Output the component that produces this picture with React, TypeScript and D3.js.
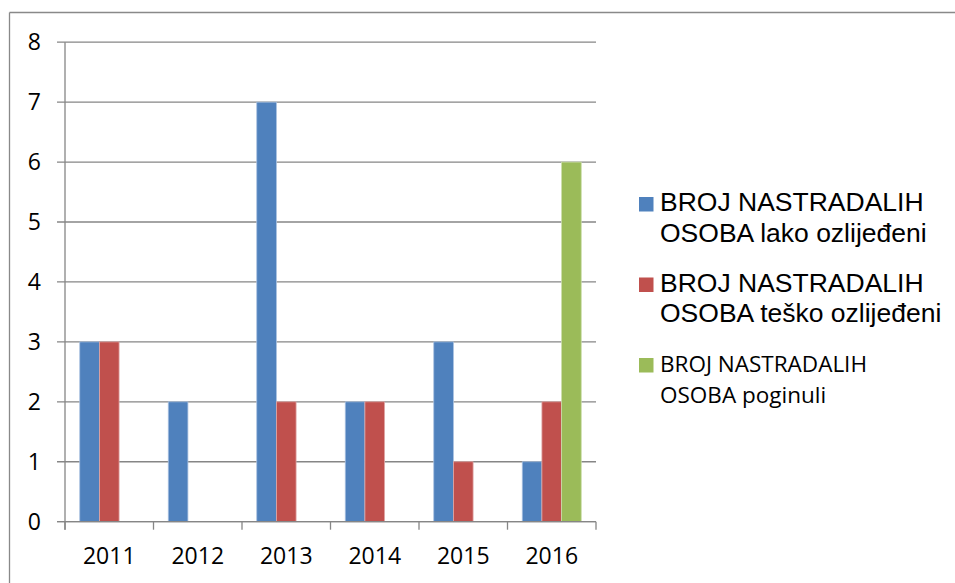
import React, { useEffect, useRef } from "react";
import * as d3 from "d3";

const years = ["2011", "2012", "2013", "2014", "2015", "2016"];
const seriesKeys = ["lako", "tesko", "poginuli"];
const lakoOzlijedeni = [3, 2, 7, 2, 3, 1];
const teskoOzlijedeni = [3, 0, 2, 2, 1, 2];
const poginuli = [0, 0, 0, 0, 0, 6];
const legendLines = [
  ["BROJ NASTRADALIH", "OSOBA lako ozlijeđeni"],
  ["BROJ NASTRADALIH", "OSOBA teško ozlijeđeni"],
  ["BROJ NASTRADALIH", "OSOBA poginuli"],
];
const yTicks = [0, 1, 2, 3, 4, 5, 6, 7, 8];

const colors = ["#4F81BD", "#C0504D", "#9BBB59"];
const edgeColors = ["#A9C1E0", "#DFA7A6", "#CBDDAB"];

const W = 955;
const H = 583;

const App = () => {
  const ref = useRef<SVGSVGElement>(null);

  useEffect(() => {
    const svg = d3.select(ref.current);
    svg.selectAll("*").remove();

    const values = [lakoOzlijedeni, teskoOzlijedeni, poginuli];

    // outer frame (only top and left edge visible)
    svg.append("line").attr("x1", 9.5).attr("x2", W).attr("y1", 12.5).attr("y2", 12.5)
      .attr("stroke", "#898989").attr("stroke-width", 1.3);
    svg.append("line").attr("x1", 9.5).attr("x2", 9.5).attr("y1", 12.5).attr("y2", H)
      .attr("stroke", "#898989").attr("stroke-width", 1.3);

    const x = d3.scaleBand().domain(years).range([65, 596]).padding(0);
    const xs = d3.scaleBand().domain(seriesKeys).range([0, x.bandwidth()])
      .paddingInner(0).paddingOuter(0.75);
    const y = d3.scaleLinear().domain([0, 8]).range([521.7, 42.2]);

    // gridlines with left ticks
    svg.append("g").selectAll("line").data(yTicks).join("line")
      .attr("x1", 57).attr("x2", 596)
      .attr("y1", (d) => y(d)).attr("y2", (d) => y(d))
      .attr("stroke", "#868686").attr("stroke-width", 1.3);

    // y axis line
    svg.append("line").attr("x1", 65).attr("x2", 65).attr("y1", y(8)).attr("y2", y(0) + 8)
      .attr("stroke", "#868686").attr("stroke-width", 1.3);

    // x ticks at category boundaries
    const bounds = years.map((d) => x(d) as number).concat([596]);
    svg.append("g").selectAll("line").data(bounds).join("line")
      .attr("x1", (d) => d).attr("x2", (d) => d)
      .attr("y1", y(0)).attr("y2", y(0) + 8)
      .attr("stroke", "#868686").attr("stroke-width", 1.3);

    // bars
    seriesKeys.forEach((key, si) => {
      svg.append("g").selectAll("rect")
        .data(years.map((yr, i) => ({ yr, v: values[si][i] })).filter((d) => d.v > 0))
        .join("rect")
        .attr("x", (d) => (x(d.yr) as number) + (xs(key) as number))
        .attr("width", xs.bandwidth())
        .attr("y", (d) => y(d.v))
        .attr("height", (d) => y(0) - y(d.v))
        .attr("fill", colors[si])
        .attr("stroke", edgeColors[si])
        .attr("stroke-width", 0.8);
    });

    // redraw baseline over the bars
    svg.append("line").attr("x1", 57).attr("x2", 596).attr("y1", y(0)).attr("y2", y(0))
      .attr("stroke", "#868686").attr("stroke-width", 1.3);

    // y labels
    svg.append("g").selectAll("text").data(yTicks).join("text")
      .attr("x", 41).attr("y", (d) => y(d) + 8)
      .attr("text-anchor", "end")
      .attr("font-family", "'Open Sans', sans-serif").attr("font-size", 23)
      .attr("fill", "#000")
      .text((d) => d);

    // x labels
    svg.append("g").selectAll("text").data(years).join("text")
      .attr("x", (d) => (x(d) as number) + x.bandwidth() / 2)
      .attr("y", 564)
      .attr("text-anchor", "middle")
      .attr("font-family", "'Open Sans', sans-serif").attr("font-size", 23)
      .attr("fill", "#000")
      .text((d) => d);

    // legend
    const legendTop = [197, 277.5, 358];
    legendLines.forEach((lines, i) => {
      const g = svg.append("g");
      g.append("rect").attr("x", 639).attr("y", legendTop[i]).attr("width", 14.5).attr("height", 14.5)
        .attr("fill", colors[i]);
      const isArial = i < 2;
      lines.forEach((t, li) => {
        g.append("text")
          .attr("x", 660)
          .attr("y", legendTop[i] + 14 + li * 30.7)
          .attr("font-family", isArial ? "'Liberation Sans', Arial, sans-serif" : "'Open Sans', sans-serif")
          .attr("font-size", isArial ? 26.5 : 22.5)
          .attr("fill", "#000")
          .text(t);
      });
    });
  }, []);

  return (
    <svg
      ref={ref}
      width={W}
      height={H}
      style={{ position: "absolute", left: 0, top: 0, background: "#fff" }}
    />
  );
};

export default App;
